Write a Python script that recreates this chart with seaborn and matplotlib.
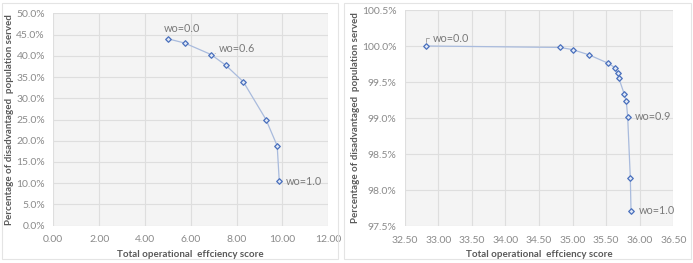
import matplotlib
matplotlib.use("Agg")
import matplotlib.pyplot as plt
import seaborn as sns
import pandas as pd
from matplotlib.patches import Rectangle
from matplotlib.ticker import FuncFormatter, MultipleLocator

# ---- data ----
left_x = [5.00, 5.73, 6.88, 7.52, 8.29, 9.28, 9.77, 9.86]
left_y = [44.0, 43.0, 40.3, 37.8, 33.9, 25.0, 18.8, 10.5]
left_labels = ["wo=0.0", "", "wo=0.6", "", "", "", "", "wo=1.0"]

right_x = [32.82, 34.81, 35.00, 35.25, 35.53, 35.63, 35.67, 35.69, 35.77, 35.80, 35.82, 35.86, 35.87]
right_y = [100.0, 99.98, 99.95, 99.875, 99.76, 99.70, 99.63, 99.55, 99.33, 99.23, 99.02, 98.16, 97.71]
right_labels = ["wo=0.0", "", "", "", "", "", "", "", "", "", "wo=0.9", "", "wo=1.0"]

x_label = "Total operational  effciency score"
y_label = "Percentage of disadvantaged  population served"

sns.set_style("white")
plt.rcParams["font.family"] = ["Lato", "DejaVu Sans"]

W, H = 693, 263
fig = plt.figure(figsize=(W / 100, H / 100), dpi=100)

def px_rect(x0, y0, x1, y1):
    return [x0 / W, 1 - y1 / H, (x1 - x0) / W, (y1 - y0) / H]

# chart-area frames
for (x0, y0, x1, y1) in [(2, 3, 338, 259), (344, 3, 691, 259)]:
    fig.patches.append(Rectangle((x0 / W, 1 - y1 / H), (x1 - x0) / W, (y1 - y0) / H,
                                 transform=fig.transFigure, fill=False,
                                 edgecolor="#e4e4e4", linewidth=0.8))

axL = fig.add_axes(px_rect(53.3, 13.3, 328.3, 225.7))
axR = fig.add_axes(px_rect(404.8, 10.0, 673.3, 226.0))

LINE = "#a9bbdd"
MK_EDGE = "#4a70bd"
MK_FACE = "#dfe7f5"
TICK_C = "#8a8a8a"
LAB_C = "#595959"
TXT_C = "#7a7a7a"

def style(ax, xlim, ylim, xstep, ystep, ylab_x):
    ax.set_facecolor("#f4f4f4")
    ax.set_xlim(*xlim)
    ax.set_ylim(*ylim)
    ax.xaxis.set_major_locator(MultipleLocator(xstep))
    ax.yaxis.set_major_locator(MultipleLocator(ystep))
    ax.xaxis.set_major_formatter(FuncFormatter(lambda v, p: f"{v:.2f}"))
    ax.yaxis.set_major_formatter(FuncFormatter(lambda v, p: f"{v:.1f}%"))
    ax.grid(True, color="#dedede", linewidth=0.8)
    ax.set_axisbelow(True)
    for s in ax.spines.values():
        s.set_visible(False)
    ax.tick_params(axis="both", length=0, labelsize=7.5, colors=TICK_C)
    ax.tick_params(axis="x", pad=7)
    ax.tick_params(axis="y", pad=6)
    ax.set_xlabel(x_label, fontsize=7, fontweight="bold", color=LAB_C, labelpad=4)
    ax.set_ylabel(y_label, fontsize=7, fontweight="bold", color=LAB_C)
    ax.yaxis.set_label_coords(ylab_x, 0.5)

def draw(ax, xs, ys):
    df = pd.DataFrame({"x": xs, "y": ys})
    sns.lineplot(data=df, x="x", y="y", ax=ax, sort=False, estimator=None,
                 color=LINE, linewidth=0.9, zorder=2)
    sns.scatterplot(data=df, x="x", y="y", ax=ax, marker="D", s=8,
                    facecolor=MK_FACE, edgecolor=MK_EDGE, linewidth=0.9, zorder=3)

draw(axL, left_x, left_y)
style(axL, (0, 12), (0, 50), 2, 5, (14 - 53.3) / 275.0)
draw(axR, right_x, right_y)
style(axR, (32.5, 36.5), (97.5, 100.5), 0.5, 0.5, (360 - 404.8) / 268.5)

ann = dict(textcoords="offset pixels", fontsize=7.8, color=TXT_C, va="center")
# left panel labels
axL.annotate(left_labels[0], (left_x[0], left_y[0]), xytext=(-4, 10), ha="left", **ann)
axL.annotate(left_labels[2], (left_x[2], left_y[2]), xytext=(8, 6), ha="left",
             arrowprops=dict(arrowstyle="-", color="#bbbbbb", lw=0.6, shrinkA=0, shrinkB=3), **ann)
axL.annotate(left_labels[7], (left_x[7], left_y[7]), xytext=(7, 0), ha="left", **ann)
# right panel labels
axR.annotate(right_labels[0], (right_x[0], right_y[0]), xytext=(7, 8), ha="left",
             arrowprops=dict(arrowstyle="-", color="#999999", lw=0.6, shrinkA=1, shrinkB=3,
                             connectionstyle="angle,angleA=0,angleB=90,rad=0"), **ann)
axR.annotate(right_labels[10], (right_x[10], right_y[10]), xytext=(7, 0), ha="left", **ann)
axR.annotate(right_labels[12], (right_x[12], right_y[12]), xytext=(8, 0), ha="left", **ann)

fig.savefig("out.png", dpi=100)
